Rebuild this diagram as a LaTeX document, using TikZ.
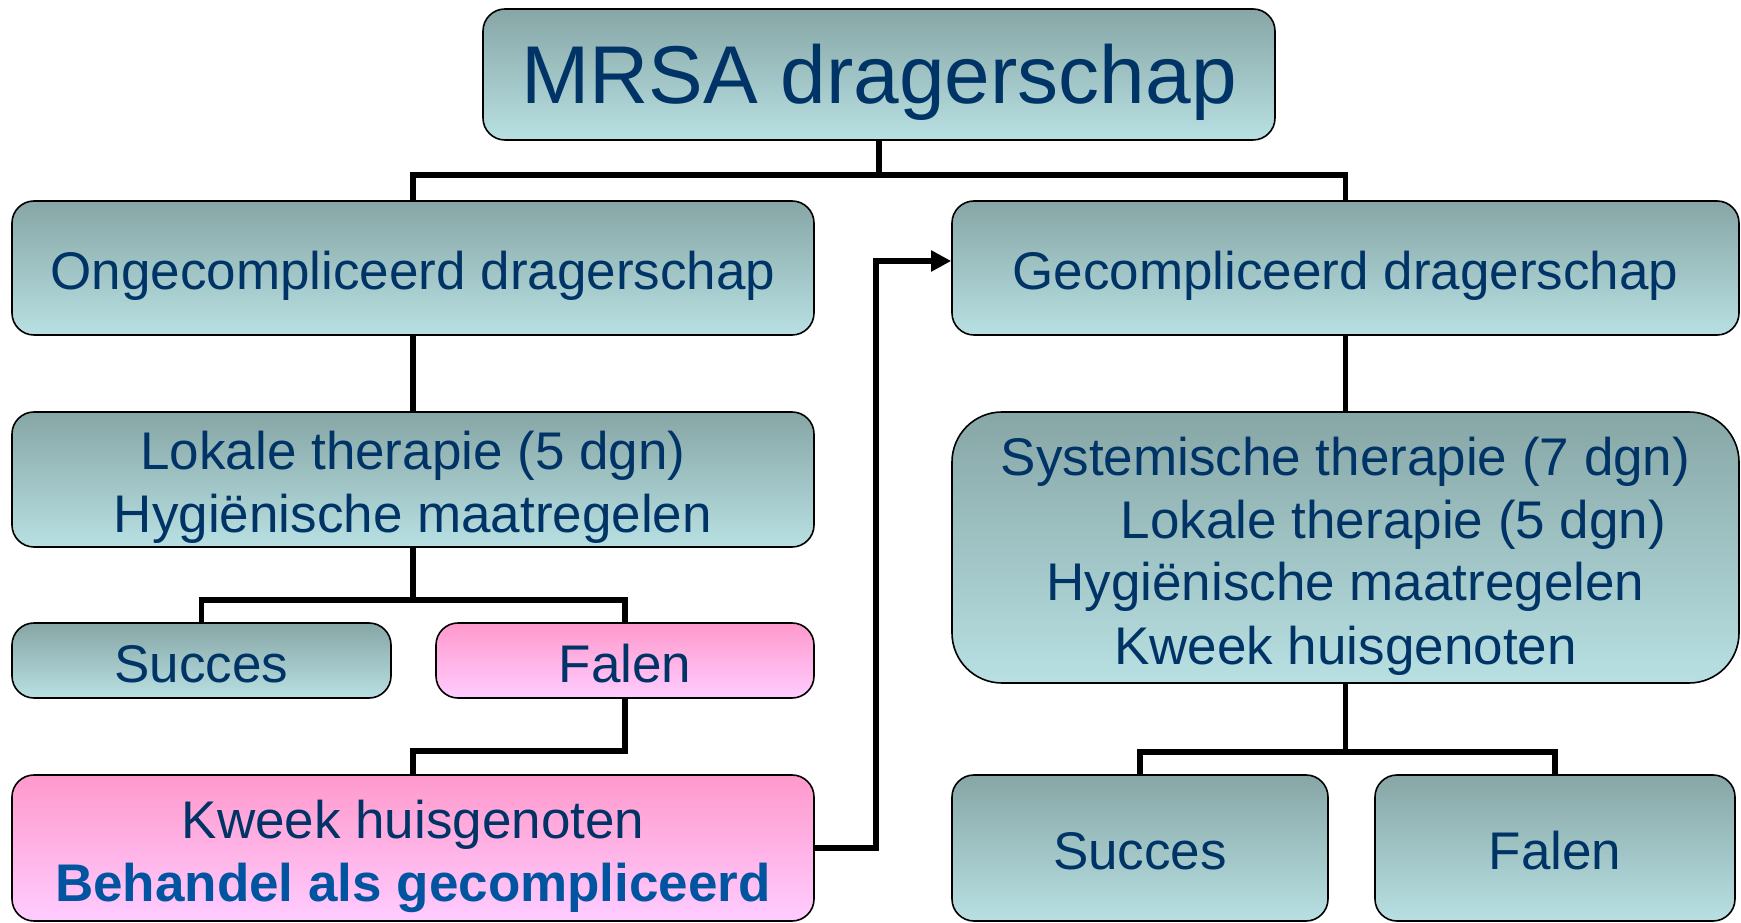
\documentclass[tikz,border=0pt]{standalone}
\usepackage{fontspec}
\setmainfont{Liberation Sans}
\usetikzlibrary{arrows.meta}
\definecolor{tealtop}{RGB}{135,166,166}
\definecolor{tealbot}{RGB}{184,224,226}
\definecolor{pinktop}{RGB}{255,153,204}
\definecolor{pinkbot}{RGB}{255,204,255}
\definecolor{navytext}{RGB}{0,51,102}
\definecolor{boldblue}{RGB}{0,84,160}
\newcommand\liftA{\rule{0pt}{27.5pt}}
\newcommand\liftB{\rule{0pt}{22pt}}
\begin{document}
\begin{tikzpicture}[
    box/.style={draw=black, line width=0.8pt, rounded corners=11pt, align=center, inner sep=0pt, text=navytext, font=\fontsize{26.5}{31.5}\selectfont},
    tealbox/.style={box, top color=tealtop, bottom color=tealbot},
    pinkbox/.style={box, top color=pinktop, bottom color=pinkbot},
    link/.style={line width=2.8pt}]
  \useasboundingbox (0,0) rectangle (870.5pt,461pt);
  % boxes
  \node[tealbox, minimum width=396pt, minimum height=65.5pt, font=\fontsize{41}{48}\selectfont] (mrsa) at (439.5pt,423.75pt) {\rule{0pt}{38pt}MRSA dragerschap};
  \node[tealbox, minimum width=401pt, minimum height=67pt] (ongecomp) at (206.5pt,327pt) {\liftA Ongecompliceerd dragerschap};
  \node[tealbox, minimum width=393.5pt, minimum height=67pt] (gecomp) at (672.75pt,327pt) {\liftA Gecompliceerd dragerschap};
  \node[tealbox, minimum width=401pt, minimum height=67.5pt] (lokaal) at (206.5pt,221.25pt) {\liftA Lokale therapie (5 dgn)\\Hygiënische maatregelen};
  \node[tealbox, rounded corners=25pt, minimum width=393.5pt, minimum height=135.5pt] (systeem) at (672.75pt,187.25pt) {\liftA Systemische therapie (7 dgn)\\\hspace*{48pt}Lokale therapie (5 dgn)\\Hygiënische maatregelen\\Kweek huisgenoten};
  \node[tealbox, minimum width=189.5pt, minimum height=37.5pt] (succesl) at (100.75pt,130.75pt) {\liftB Succes};
  \node[pinkbox, minimum width=189pt, minimum height=37.5pt] (falenl) at (312.5pt,130.75pt) {\liftB Falen};
  \node[pinkbox, minimum width=401pt, minimum height=73pt] (kweek) at (206.5pt,37pt) {\liftA Kweek huisgenoten\\\textbf{\color{boldblue}Behandel als gecompliceerd}};
  \node[tealbox, minimum width=188pt, minimum height=73pt] (succesr) at (570pt,37pt) {\liftB Succes};
  \node[tealbox, minimum width=180pt, minimum height=73pt] (falenr) at (777.5pt,37pt) {\liftB Falen};
  % connectors
  \coordinate (bus) at (0,373.5pt);
  \coordinate (busl) at (0,161pt);
  \coordinate (busr) at (0,85pt);
  \draw[link] (mrsa.south) -- (mrsa.south |- bus);
  \draw[link] (ongecomp.north) |- (gecomp.north |- bus) -- (gecomp.north);
  \draw[link] (ongecomp.south) -- (lokaal.north);
  \draw[link] (gecomp.south) -- (systeem.north);
  \draw[link] (lokaal.south) -- (lokaal.south |- busl);
  \draw[link] (succesl.north) |- (falenl.north |- busl) -- (falenl.north);
  \draw[link] (falenl.south) -- ++(0,-26pt) -| (kweek.north);
  \draw[link,-{Triangle[length=10pt,width=10pt]}] (kweek.east) -- ++(30.5pt,0) |- ([yshift=3.5pt]gecomp.west);
  \draw[link] (systeem.south) -- (systeem.south |- busr);
  \draw[link] (succesr.north) |- (falenr.north |- busr) -- (falenr.north);
\end{tikzpicture}
\end{document}
